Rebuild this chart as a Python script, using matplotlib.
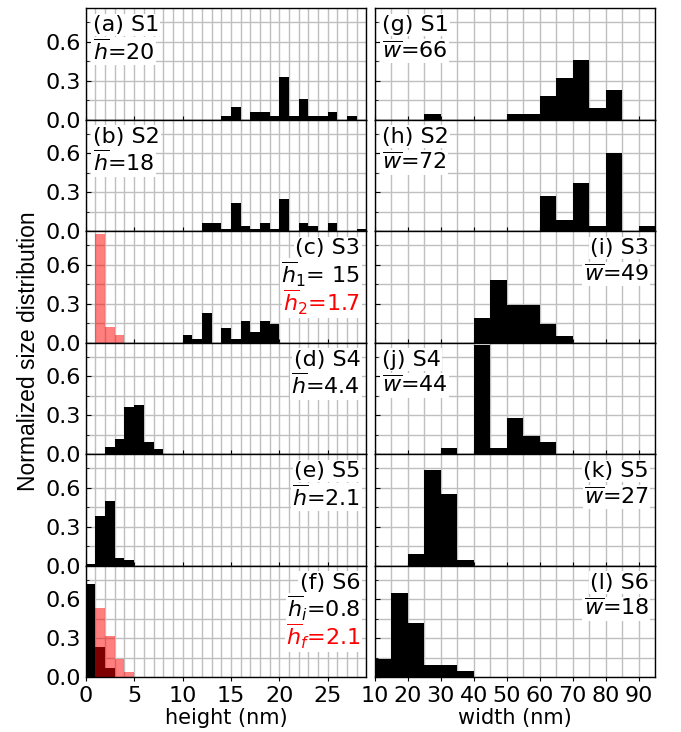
import numpy as np
import matplotlib
matplotlib.use("Agg")
import matplotlib.pyplot as plt
from matplotlib.ticker import MultipleLocator

# height histograms (1 nm bins, left edges + normalized counts)
h_s1_x = [14, 15, 16, 17, 18, 19, 20, 21, 22, 23, 24, 25, 26, 27]
h_s1_y = [0.03, 0.10, 0.0, 0.06, 0.06, 0.03, 0.33, 0.03, 0.16, 0.03, 0.03, 0.06, 0.0, 0.03]
h_s2_x = [12, 13, 14, 15, 16, 17, 18, 19, 20, 21, 22, 23, 24, 25, 26, 27, 28]
h_s2_y = [0.06, 0.06, 0.015, 0.22, 0.04, 0.015, 0.06, 0.015, 0.25, 0.0, 0.06, 0.04,
          0.0, 0.06, 0.0, 0.0, 0.015]
h_s3_x = [10, 11, 12, 13, 14, 15, 16, 17, 18, 19]
h_s3_y = [0.057, 0.026, 0.23, 0.0, 0.11, 0.026, 0.165, 0.08, 0.165, 0.14]
h_s3b_x = [1, 2, 3]
h_s3b_y = [0.84, 0.12, 0.057]
h_s4_x = [2, 3, 4, 5, 6, 7]
h_s4_y = [0.057, 0.117, 0.36, 0.375, 0.093, 0.04]
h_s5_x = [0, 1, 2, 3, 4]
h_s5_y = [0.015, 0.38, 0.50, 0.06, 0.04]
h_s6_x = [0, 1, 2]
h_s6_y = [0.72, 0.23, 0.067]
h_s6b_x = [0, 1, 2, 3, 4]
h_s6b_y = [0.0, 0.53, 0.32, 0.14, 0.036]

# width histograms (5 nm bins)
w_s1_x = [25, 30, 35, 40, 45, 50, 55, 60, 65, 70, 75, 80]
w_s1_y = [0.04, 0.0, 0.0, 0.0, 0.0, 0.04, 0.04, 0.18, 0.32, 0.46, 0.086, 0.226]
w_s2_x = [60, 65, 70, 75, 80, 85, 90]
w_s2_y = [0.27, 0.086, 0.37, 0.04, 0.60, 0.0, 0.04]
w_s3_x = [40, 45, 50, 55, 60, 65]
w_s3_y = [0.19, 0.48, 0.29, 0.29, 0.143, 0.05]
w_s4_x = [30, 35, 40, 45, 50, 55, 60]
w_s4_y = [0.047, 0.0, 0.84, 0.047, 0.28, 0.14, 0.094]
w_s5_x = [20, 25, 30, 35]
w_s5_y = [0.086, 0.74, 0.55, 0.04]
w_s6_x = [10, 15, 20, 25, 30, 35]
w_s6_y = [0.14, 0.65, 0.42, 0.09, 0.09, 0.044]

left_panels = [
    (h_s1_x, h_s1_y, None, None, ["(a) S1", r"$\overline{h}$=20"], "left"),
    (h_s2_x, h_s2_y, None, None, ["(b) S2", r"$\overline{h}$=18"], "left"),
    (h_s3_x, h_s3_y, h_s3b_x, h_s3b_y,
     ["(c) S3", r"$\overline{h}_1$= 15", r"$\overline{h}_2$=1.7"], "right"),
    (h_s4_x, h_s4_y, None, None, ["(d) S4", r"$\overline{h}$=4.4"], "right"),
    (h_s5_x, h_s5_y, None, None, ["(e) S5", r"$\overline{h}$=2.1"], "right"),
    (h_s6_x, h_s6_y, h_s6b_x, h_s6b_y,
     ["(f) S6", r"$\overline{h}_i$=0.8", r"$\overline{h}_f$=2.1"], "right"),
]
right_panels = [
    (w_s1_x, w_s1_y, ["(g) S1", r"$\overline{w}$=66"], "left"),
    (w_s2_x, w_s2_y, ["(h) S2", r"$\overline{w}$=72"], "left"),
    (w_s3_x, w_s3_y, ["(i) S3", r"$\overline{w}$=49"], "right"),
    (w_s4_x, w_s4_y, ["(j) S4", r"$\overline{w}$=44"], "left"),
    (w_s5_x, w_s5_y, ["(k) S5", r"$\overline{w}$=27"], "right"),
    (w_s6_x, w_s6_y, ["(l) S6", r"$\overline{w}$=18"], "right"),
]

FS = 16
YMAX = 0.86

fig, axes = plt.subplots(6, 2, figsize=(6.81, 7.32), dpi=100,
                         gridspec_kw=dict(hspace=0, wspace=0.03))
fig.subplots_adjust(left=0.126, right=0.962, top=0.989, bottom=0.075)


def add_label(ax, lines, side):
    offsets = [-17, -43, -71]
    for i, line in enumerate(lines):
        color = "red" if i == 2 else "black"
        if side == "left":
            xy, dx, ha = (0, 1), 7, "left"
        else:
            xy, dx, ha = (1, 1), -6, "right"
        ax.annotate(line, xy=xy, xycoords="axes fraction",
                    xytext=(dx, offsets[i]), textcoords="offset pixels",
                    ha=ha, va="center", fontsize=FS, color=color, zorder=5,
                    bbox=dict(facecolor="white", edgecolor="none", pad=1))


def style(ax, bottom, left):
    ax.set_ylim(0, YMAX)
    ax.yaxis.set_major_locator(MultipleLocator(0.3))
    ax.yaxis.set_minor_locator(MultipleLocator(0.15))
    ax.grid(True, which="both", color="0.75", linewidth=1)
    ax.set_axisbelow(True)
    ax.tick_params(axis="y", which="both", direction="in", labelsize=FS,
                   labelleft=left)
    ax.tick_params(axis="x", which="both", direction="out" if bottom else "in",
                   labelsize=FS, labelbottom=bottom, length=3)
    ax.tick_params(axis="x", which="minor", length=0)
    for sp in ax.spines.values():
        sp.set_color("black")
        sp.set_linewidth(1)


for i, (x, y, xr, yr, lines, side) in enumerate(left_panels):
    ax = axes[i, 0]
    ax.bar(x, y, width=1, align="edge", color="black", linewidth=0)
    if xr is not None:
        ax.bar(xr, yr, width=1, align="edge", color="red", alpha=0.5, linewidth=0)
    ax.set_xlim(0, 29)
    ax.xaxis.set_major_locator(MultipleLocator(5))
    ax.xaxis.set_minor_locator(MultipleLocator(1))
    style(ax, i == 5, True)
    add_label(ax, lines, side)

for i, (x, y, lines, side) in enumerate(right_panels):
    ax = axes[i, 1]
    ax.bar(x, y, width=5, align="edge", color="black", linewidth=0)
    ax.set_xlim(10, 95)
    ax.xaxis.set_major_locator(MultipleLocator(10))
    ax.xaxis.set_minor_locator(MultipleLocator(5))
    style(ax, i == 5, False)
    add_label(ax, lines, side)

axes[5, 0].set_xlabel("height (nm)", fontsize=15, labelpad=1)
axes[5, 1].set_xlabel("width (nm)", fontsize=15, labelpad=1)
fig.text(0.042, 0.52, "Normalized size distribution", rotation=90,
         ha="center", va="center", fontsize=16.5, family="Liberation Sans")

fig.savefig("out.png", dpi=100)
